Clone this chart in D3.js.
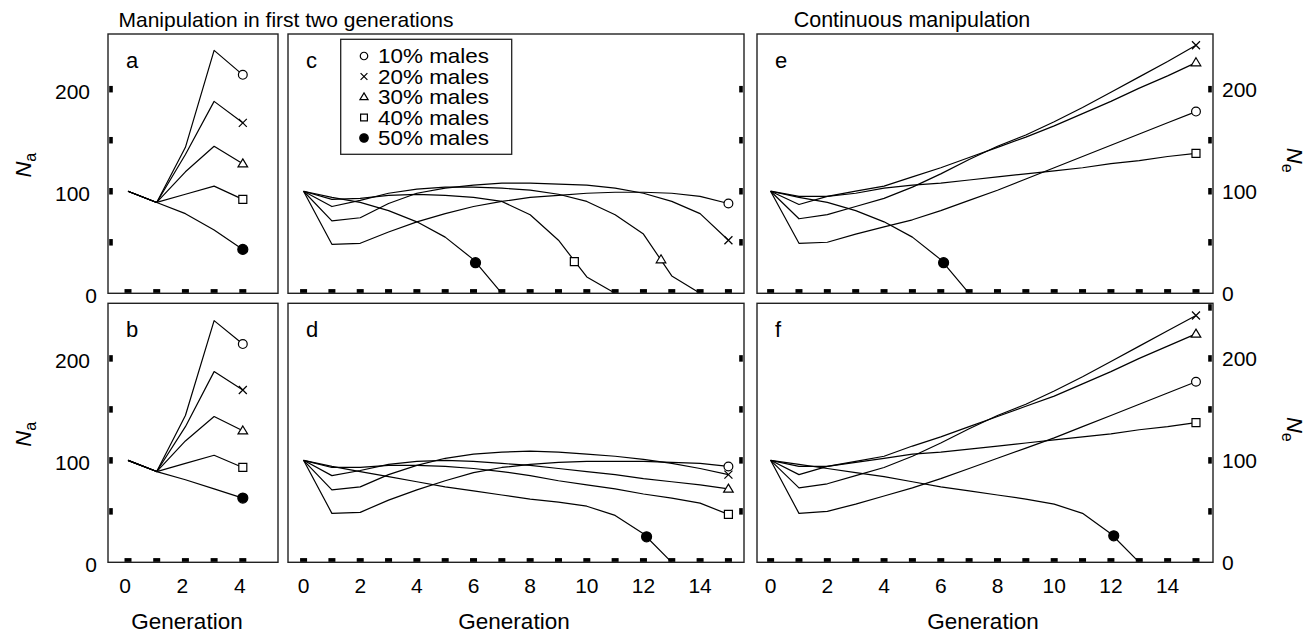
<!DOCTYPE html>
<html>
<head>
<meta charset="utf-8">
<script src="https://cdn.jsdelivr.net/npm/d3@7"></script>
<style>
  body { margin: 0; background: #fff; }
  svg { display: block; font-family: 'Liberation Sans', Arial, Helvetica, sans-serif; }
</style>
</head>
<body>
<svg id="chart" width="1316" height="635"></svg>
<script>
// series (legend order) and their symbols
const SERIES  = ['10% males', '20% males', '30% males', '40% males', '50% males'];
const SYMBOLS = ['circle', 'cross', 'triangle', 'square', 'dot'];

// values per generation, starting at generation 0 (one row per series)
const A_VALUES = [
  [100, 89, 143, 238, 214],
  [100, 89, 136, 188, 167],
  [100, 89, 119, 144, 127],
  [100, 89, 97, 105, 92],
  [100, 89, 78, 62, 43]
];
const B_VALUES = [
  [100, 89, 144, 237, 214],
  [100, 89, 133, 187, 169],
  [100, 89, 119, 143, 129],
  [100, 89, 97, 105, 93],
  [100, 89, 81, 72, 63]
];
const C_VALUES = [
  [100, 48, 49, 60, 70, 78, 85, 90, 94, 96, 98, 99, 99, 98, 95, 88],
  [100, 71, 74, 88, 98, 103, 106, 108, 108, 107, 106, 103, 98, 90, 78, 52],
  [100, 85, 91, 98, 102, 104, 104, 103, 101, 97, 90, 77, 58, 17, 0],
  [100, 92, 93, 96, 97, 96, 94, 90, 77, 52, 16, 0],
  [100, 94, 89, 81, 70, 55, 33, 0]
];
const D_VALUES = [
  [100, 48, 49, 61, 71, 80, 88, 93, 96, 98, 99, 99, 99, 98, 97, 94],
  [100, 71, 74, 86, 95, 102, 106, 108, 109, 108, 106, 104, 101, 97, 92, 86],
  [100, 85, 90, 96, 99, 100, 99, 97, 95, 92, 89, 86, 82, 79, 76, 72],
  [100, 93, 93, 95, 95, 94, 92, 89, 85, 80, 76, 72, 67, 63, 58, 47],
  [100, 94, 89, 84, 79, 74, 70, 66, 62, 59, 55, 46, 28, 0]
];
const E_VALUES = [
  [100, 49, 50, 58, 65, 72, 81, 91, 101, 112, 123, 134, 145, 156, 167, 178],
  [100, 73, 77, 85, 93, 104, 117, 131, 144, 155, 168, 182, 197, 212, 227, 243],
  [100, 87, 95, 100, 105, 114, 123, 133, 143, 153, 164, 176, 188, 201, 213, 226],
  [100, 95, 95, 98, 103, 106, 108, 111, 114, 117, 120, 123, 127, 130, 134, 137],
  [100, 94, 89, 81, 70, 55, 33, 0]
];
const F_VALUES = [
  [100, 48, 50, 57, 65, 73, 82, 92, 102, 112, 122, 133, 144, 155, 166, 177],
  [100, 73, 77, 85, 93, 104, 117, 131, 144, 155, 168, 182, 197, 212, 227, 242],
  [100, 86, 94, 99, 104, 114, 123, 133, 143, 153, 163, 175, 187, 200, 212, 224],
  [100, 94, 94, 98, 102, 106, 108, 111, 114, 117, 120, 123, 126, 130, 133, 137],
  [100, 96, 92, 88, 84, 79, 74, 70, 66, 62, 57, 48, 28, 0]
];

// symbol positions [generation, value]
const A_MARKS = [[4, 214], [4, 167], [4, 127], [4, 92], [4, 43]];
const B_MARKS = [[4, 214], [4, 169], [4, 129], [4, 93], [4, 63]];
const C_MARKS = [[15, 88], [15, 52], [12.62, 33], [9.56, 31], [6.07, 30]];
const D_MARKS = [[15, 94], [15, 86], [15, 72], [15, 47], [12.11, 25]];
const E_MARKS = [[15, 178], [15, 243], [15, 226], [15, 137], [6.1, 30]];
const F_MARKS = [[15, 177], [15, 242], [15, 224], [15, 137], [12.1, 26]];

const Y_TICKS       = [50, 100, 150, 200];
const Y_TICKS_F     = [50, 100, 150, 200, 250];
const Y_LABELS      = [0, 100, 200];
const X_LABELS_A    = [0, 2, 4];
const X_LABELS_LONG = [0, 2, 4, 6, 8, 10, 12, 14];
const Y_MAX = 254;

const svg = d3.select('#chart');
const FONT = 21;

const ROWS = [
  { top: 34,    bottom: 293.3 },
  { top: 303.3, bottom: 562.3 }
];
const COLS = [
  { left: 108, right: 278,  domain: [-0.697, 5.226], xLabels: X_LABELS_A,    side: 'left'  },
  { left: 288, right: 744,  domain: [-0.55, 15.55],  xLabels: X_LABELS_LONG, side: 'right' },
  { left: 757, right: 1213, domain: [-0.48, 15.6],   xLabels: X_LABELS_LONG, side: 'right' }
];

const PANELS = [
  { key: 'a', col: 0, row: 0, values: A_VALUES, marks: A_MARKS, ticks: Y_TICKS },
  { key: 'c', col: 1, row: 0, values: C_VALUES, marks: C_MARKS, ticks: Y_TICKS },
  { key: 'e', col: 2, row: 0, values: E_VALUES, marks: E_MARKS, ticks: Y_TICKS },
  { key: 'b', col: 0, row: 1, values: B_VALUES, marks: B_MARKS, ticks: Y_TICKS },
  { key: 'd', col: 1, row: 1, values: D_VALUES, marks: D_MARKS, ticks: Y_TICKS },
  { key: 'f', col: 2, row: 1, values: F_VALUES, marks: F_MARKS, ticks: Y_TICKS_F }
];

// marker shapes
function symbolPath(type, scale) {
  const p = d3.path();
  const s = scale || 1;
  if (type === 'circle') {
    const r = 4.4 * s; p.moveTo(r, 0); p.arc(0, 0, r, 0, 2 * Math.PI);
  } else if (type === 'dot') {
    const r = 5 * s; p.moveTo(r, 0); p.arc(0, 0, r, 0, 2 * Math.PI);
  } else if (type === 'cross') {
    const h = 4 * s;
    p.moveTo(-h, -h); p.lineTo(h, h); p.moveTo(-h, h); p.lineTo(h, -h);
  } else if (type === 'triangle') {
    const w = 4.8 * s, ht = 8 * s;
    p.moveTo(0, -ht * 0.6); p.lineTo(w, ht * 0.4); p.lineTo(-w, ht * 0.4); p.closePath();
  } else if (type === 'square') {
    const h = 4 * s; p.rect(-h, -h, 2 * h, 2 * h);
  }
  return p.toString();
}

function drawSymbol(g, type, cx, cy, scale) {
  g.append('path')
    .attr('transform', `translate(${cx},${cy})`)
    .attr('d', symbolPath(type, scale))
    .attr('fill', type === 'dot' ? '#000' : (type === 'cross' ? 'none' : '#fff'))
    .attr('stroke', '#000')
    .attr('stroke-width', 1.2);
}

PANELS.forEach(p => {
  const col = COLS[p.col], row = ROWS[p.row];
  const x = d3.scaleLinear().domain(col.domain).range([col.left, col.right]);
  const y = d3.scaleLinear().domain([0, Y_MAX]).range([row.bottom, row.top]);
  const g = svg.append('g');

  // generation dashes along the bottom
  const maxGen = d3.max(p.values, v => v.length - 1);
  g.selectAll('.gdash')
    .data(d3.range(0, maxGen + 1)).enter()
    .append('rect')
    .attr('x', d => x(d) - 3.5)
    .attr('y', row.bottom - 4.2)
    .attr('width', 7).attr('height', 3.8)
    .attr('fill', '#000');

  // value ticks on the inner side
  const sx = col.side === 'left' ? col.left + 1.2 : col.right - 4.8;
  g.selectAll('.ydash')
    .data(p.ticks).enter()
    .append('rect')
    .attr('x', sx)
    .attr('y', d => y(d) - 3.2)
    .attr('width', 3.6).attr('height', 6.5)
    .attr('fill', '#000');

  // lines
  const line = d3.line().x((d, i) => x(i)).y(d => y(d));
  p.values.forEach(v => {
    g.append('path')
      .attr('d', line(v))
      .attr('fill', 'none')
      .attr('stroke', '#000')
      .attr('stroke-width', 1.2)
      .attr('stroke-linejoin', 'round');
  });

  // frame
  g.append('rect')
    .attr('x', col.left).attr('y', row.top)
    .attr('width', col.right - col.left)
    .attr('height', row.bottom - row.top)
    .attr('fill', 'none')
    .attr('stroke', '#222')
    .attr('stroke-width', 1.4);

  // symbols
  p.marks.forEach((m, i) => drawSymbol(g, SYMBOLS[i], x(m[0]), y(m[1]), 1));

  // panel letter
  g.append('text')
    .attr('x', col.left + 18).attr('y', row.top + 33.5)
    .attr('font-size', 22)
    .text(p.key);

  // x labels on bottom row
  if (p.row === 1) {
    g.selectAll('.xl')
      .data(col.xLabels).enter()
      .append('text')
      .attr('x', d => x(d) - (p.col === 0 ? 3 : 0))
      .attr('y', 593)
      .attr('text-anchor', 'middle')
      .attr('font-size', FONT)
      .text(d => d);
    g.append('text')
      .attr('x', (col.left + col.right) / 2 - (p.col === 0 ? 6 : 2))
      .attr('y', 629)
      .attr('text-anchor', 'middle')
      .attr('font-size', 22.5)
      .text('Generation');
  }

  // y labels
  const mid = (row.top + row.bottom) / 2;
  if (p.col === 0) {
    g.selectAll('.yl')
      .data(Y_LABELS).enter()
      .append('text')
      .attr('x', d => d === 0 ? 97 : 90)
      .attr('y', d => y(d) + 2)
      .attr('dy', '0.36em')
      .attr('text-anchor', 'end')
      .attr('font-size', FONT)
      .text(d => d);
    const t = g.append('text')
      .attr('transform', `translate(31,${mid + 1.5}) rotate(-90)`)
      .attr('text-anchor', 'middle')
      .attr('font-size', 22);
    t.append('tspan').attr('font-style', 'italic').text('N');
    t.append('tspan').attr('font-size', 16).attr('dy', 5).text('a');
  }
  if (p.col === 2) {
    g.selectAll('.yr')
      .data(Y_LABELS).enter()
      .append('text')
      .attr('x', 1222)
      .attr('y', d => y(d))
      .attr('dy', '0.36em')
      .attr('font-size', FONT)
      .text(d => d);
    const t = g.append('text')
      .attr('transform', `translate(1287,${mid - 3.5}) rotate(90)`)
      .attr('text-anchor', 'middle')
      .attr('font-size', 22);
    t.append('tspan').attr('font-style', 'italic').text('N');
    t.append('tspan').attr('font-size', 16).attr('dy', 5).text('e');
  }
});

// titles
svg.append('text')
  .attr('x', 286).attr('y', 26.5)
  .attr('text-anchor', 'middle')
  .attr('font-size', FONT)
  .text('Manipulation in first two generations');
svg.append('text')
  .attr('x', 912).attr('y', 26.5)
  .attr('text-anchor', 'middle')
  .attr('font-size', 21.5)
  .text('Continuous manipulation');

// legend inside panel c
const leg = svg.append('g');
leg.append('rect')
  .attr('x', 340.7).attr('y', 39.3)
  .attr('width', 171).attr('height', 115)
  .attr('fill', '#fff')
  .attr('stroke', '#222')
  .attr('stroke-width', 1.3);
const LEG_Y0 = 56, LEG_STEP = 20.5;
SERIES.forEach((name, i) => {
  const cy = LEG_Y0 + i * LEG_STEP;
  drawSymbol(leg, SYMBOLS[i], 364, cy, 0.85);
  leg.append('text')
    .attr('x', 378).attr('y', cy + 6.6)
    .attr('font-size', 17.5)
    .attr('textLength', 111)
    .attr('lengthAdjust', 'spacingAndGlyphs')
    .attr('transform', `translate(0,${cy}) scale(1,1.12) translate(0,${-cy})`)
    .text(name);
});
</script>
</body>
</html>
